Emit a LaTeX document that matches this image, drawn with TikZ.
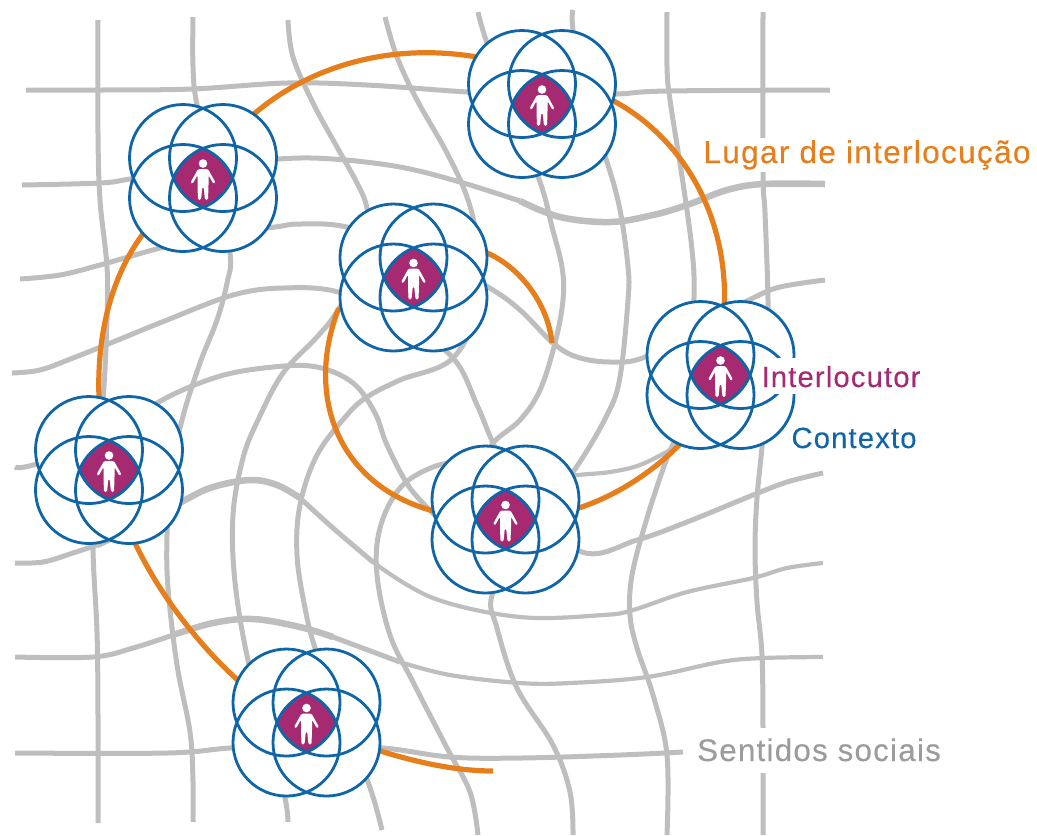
\documentclass[tikz,border=0pt]{standalone}
\usepackage{fontspec}
\setmainfont[LetterSpace=4,FakeBold=.2]{Liberation Sans}
\definecolor{lugarorange}{HTML}{E67E1C}
\definecolor{contextblue}{HTML}{0F65A6}
\definecolor{personpurple}{HTML}{A62A72}
\definecolor{gridgrey}{HTML}{BEBEBE}
\definecolor{textgrey}{HTML}{9C9C9C}
\tikzset{
spot/.style={circle, minimum size=.58cm, inner sep=0pt},
sentido/.style={draw=gridgrey, line width=.05cm},
sentido fino/.style={draw=gridgrey, line width=.042cm},
sentido largo/.style={draw=gridgrey, line width=.065cm},
lugar/.style={draw=lugarorange, line width=.052cm},
tag/.style={inner xsep=.04cm, inner ysep=0pt, anchor=base, fill=white},
interlocutor/.pic={
    \fill[white] (-20,-20) circle (53.5) (20,-20) circle (53.5)
        (-20,20) circle (53.5) (20,20) circle (53.5);
    \begin{scope}
        \clip (-20,-20) circle (53.5);
        \clip (20,-20) circle (53.5);
        \clip (-20,20) circle (53.5);
        \fill[personpurple] (20,20) circle (53.5);
    \end{scope}
    \draw[contextblue, line width=.028cm] (-20,-20) circle (53.5) (20,-20) circle (53.5)
        (-20,20) circle (53.5) (20,20) circle (53.5);
    \fill[white] (0,-14.5) circle (4.3);
    \fill[white, rounded corners=.4pt] (-5,-9) -- (5,-9) -- (12.5,4.5) -- (10.5,6) -- (5.5,-3)
        -- (5.5,8) -- (5,22) -- (2,22) -- (.7,9) -- (-.7,9) -- (-2,22) -- (-5,22)
        -- (-5.5,8) -- (-5.5,-3) -- (-10.5,6) -- (-12.5,4.5) -- cycle;
},
}
\begin{document}
\begin{tikzpicture}[x=.01cm, y=-.01cm]
\useasboundingbox (0,0) rectangle (1037,835);
\draw[sentido] plot[smooth, tension=.6] coordinates {(26,90) (100,90) (192,89) (287,83) (367,85) (467,92) (545,96) (617,94) (667,91) (830,90)};
\draw[sentido] plot[smooth, tension=.6] coordinates {(22,185) (100,183) (130,179) (200,168) (278,159) (333,159) (400,167) (460,182) (520,201)};
\draw[sentido largo] plot[smooth, tension=.6] coordinates {(520,201) (560,217) (610,222) (653,215) (687,205) (727,190) (763,184) (825,184)};
\draw[sentido] plot[smooth, tension=.6] coordinates {(20,279) (60,275) (100,265) (160,248) (215,235) (275,227) (300,224) (347,227) (420,250) (488,287) (520,310) (553,343) (577,357) (610,362) (645,357) (700,325) (753,298) (780,287) (825,280)};
\draw[sentido] plot[smooth, tension=.6] coordinates {(12,373) (40,370) (73,358) (113,342) (167,320) (233,295) (283,288) (338,292) (400,320) (453,358) (477,405) (493,443) (520,500) (582,552) (637,540) (687,522) (753,495) (787,482) (823,473)};
\draw[sentido] plot[smooth, tension=.6] coordinates {(15,467) (33,465) (109,440) (157,403) (217,377) (273,367) (317,367) (353,383) (375,413) (387,445) (410,488) (440,520)};
\draw[sentido fino] plot[smooth, tension=.6] coordinates {(540,480) (578,475) (610,472) (640,465) (670,450)};
\draw[sentido largo] plot[smooth, tension=.6] coordinates {(97,545) (150,520) (185,500) (213,487) (250,480) (277,485) (300,498)};
\draw[sentido] plot[smooth, tension=.6] coordinates {(15,563) (43,562) (73,553) (97,545)};
\draw[sentido] plot[smooth, tension=.6] coordinates {(300,498) (333,528) (373,562)};
\draw[sentido fino] plot[smooth, tension=.6] coordinates {(373,562) (433,598) (520,617) (603,615) (633,610) (687,592) (753,578) (787,568) (823,563)};
\draw[sentido] plot[smooth, tension=.6] coordinates {(15,657) (93,657) (133,648) (173,635)};
\draw[sentido largo] plot[smooth, tension=.6] coordinates {(173,635) (213,623) (253,619) (300,627) (333,637)};
\draw[sentido] plot[smooth, tension=.6] coordinates {(333,637) (400,662)};
\draw[sentido fino] plot[smooth, tension=.6] coordinates {(400,662) (450,675) (520,683) (570,683) (647,677) (720,662) (763,658) (823,657)};
\draw[sentido] plot[smooth, tension=.6] coordinates {(15,753) (167,753) (230,748) (300,745) (383,748) (450,757) (520,758) (620,755) (683,752)};
\draw[sentido] plot[smooth, tension=.6] coordinates {(98,20) (98,133) (100,200) (107,267) (107,320) (103,400) (95,470) (93,548) (97,632) (98,715) (98,823)};
\draw[sentido] plot[smooth, tension=.6] coordinates {(193,17) (193,67) (197,105) (215,180) (230,253) (227,283) (217,320) (200,363) (182,420) (170,480) (167,535) (168,588) (177,665) (190,732) (193,782) (193,822)};
\draw[sentido] plot[smooth, tension=.6] coordinates {(288,20) (293,57) (313,103) (337,147) (357,183) (367,208) (372,250) (338,310) (317,337) (283,373) (258,420) (243,458) (233,515) (235,582) (248,660) (270,740) (285,798) (288,822)};
\draw[sentido] plot[smooth, tension=.6] coordinates {(385,17) (397,57) (417,100) (447,153) (467,197) (477,240) (480,300) (453,358) (400,380) (367,397) (347,415) (317,455) (300,505) (297,555) (305,608) (315,648) (340,720) (368,782) (382,830)};
\draw[sentido] plot[smooth, tension=.6] coordinates {(478,12) (485,37) (510,110) (540,182) (552,227) (562,267) (563,300) (555,343) (540,390) (520,420) (493,443) (480,470)};
\draw[sentido] plot[smooth, tension=.6] coordinates {(470,460) (433,467) (400,488) (380,528) (377,575) (390,635) (413,682) (447,748) (470,792) (478,835)};
\draw[sentido] plot[smooth, tension=.6] coordinates {(573,10) (573,30) (585,100) (607,162) (620,210) (628,267) (628,300) (620,377) (607,415) (573,472) (520,540) (492,595) (497,628) (517,688) (553,745) (570,792) (573,835)};
\draw[sentido] plot[smooth, tension=.6] coordinates {(667,12) (667,67) (670,100) (683,183) (692,250) (694,297) (690,400) (667,458) (647,518) (632,575) (630,615) (637,648) (653,695) (667,755) (667,835)};
\draw[sentido] plot[smooth, tension=.6] coordinates {(763,12) (763,172) (765,213) (768,300) (768,380) (762,447) (757,498) (755,548) (757,602) (762,655) (763,728) (763,773) (763,835)};
\foreach \name/\x/\y in {i1/542/104, i2/203/178, i3/413.5/277.5, i4/505.5/519.5, i5/720.5/375, i6/109/470, i7/306.5/722.5}
    \node (\name) [spot] at (\x,\y) {};
\coordinate (lugarstart) at (493,771);
\coordinate (lugarend) at (552,343);
\draw[lugar] (lugarstart) .. controls (430,771) and (360,745) .. (i7);
\draw[lugar] (i7) .. controls (245,695) and (150,605) .. (i6);
\draw[lugar] (i6) .. controls (96,400) and (85,270) .. (i2);
\draw[lugar] (i2) .. controls (260,90) and (380,15) .. (i1.north);
\draw[lugar] (i1.north east) .. controls (655,100) and (745,200) .. (i5.north);
\draw[lugar] (i5) .. controls (695,440) and (620,510) .. (i4);
\draw[lugar] (i4) .. controls (350,510) and (300,410) .. (338,310) -- (i3);
\draw[lugar] (i3) .. controls (470,225) and (545,275) .. (lugarend);
\foreach \name in {i1,i2,i3,i4,i5,i6,i7}
    \pic at (\name) {interlocutor};
\node (lugartag) [tag, text=lugarorange, font=\fontsize{9}{10}\selectfont, text height=.25cm, text depth=.09cm] at (867,163) {Lugar de interlocução};
\node (persontag) [tag, text=personpurple, font=\fontsize{8.3}{10}\selectfont, text height=.29cm, text depth=.07cm] at (841,387) {Interlocutor};
\node (contexttag) [tag, text=contextblue, font=\fontsize{8.3}{10}\selectfont, fill=none] at (854,448) {Contexto};
\node (sentidotag) [tag, text=textgrey, font=\fontsize{8.9}{10}\selectfont, text height=.33cm, text depth=.12cm] at (819,761) {Sentidos sociais};
\end{tikzpicture}
\end{document}
